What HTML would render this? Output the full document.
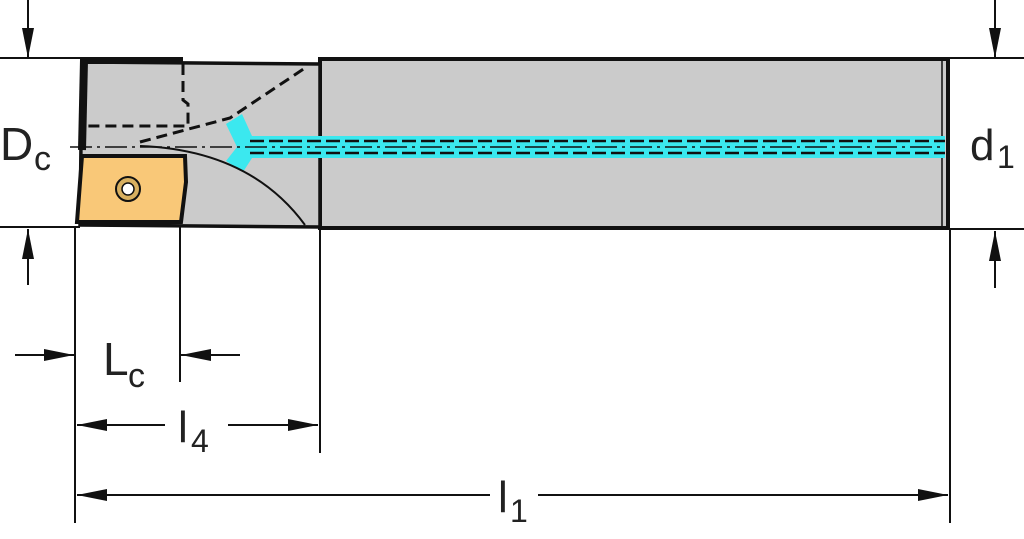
<!DOCTYPE html>
<html><head><style>body{margin:0;background:#fff}svg{display:block}text{font-family:"Liberation Sans",sans-serif;fill:#222}</style></head><body>
<svg width="1024" height="539" viewBox="0 0 1024 539" xmlns="http://www.w3.org/2000/svg">
<defs><marker id="b" markerWidth="30" markerHeight="12" refX="30" refY="6" orient="auto" markerUnits="userSpaceOnUse"><path d="M0,0 L30,6 L0,12 Z" fill="#111"/></marker></defs>
<g stroke="#111" stroke-width="2" fill="none">
<line x1="0" y1="58" x2="80" y2="58"/><line x1="0" y1="227" x2="80" y2="227"/>
<line x1="945" y1="58" x2="1024" y2="58"/><line x1="945" y1="229" x2="1024" y2="229"/>
<line x1="28" y1="0" x2="28" y2="58" marker-end="url(#b)"/><line x1="28" y1="285" x2="28" y2="229" marker-end="url(#b)"/>
<line x1="995" y1="0" x2="995" y2="58" marker-end="url(#b)"/><line x1="995" y1="288" x2="995" y2="231" marker-end="url(#b)"/>
<line x1="75" y1="227" x2="75" y2="523"/><line x1="180" y1="227" x2="180" y2="382"/>
<line x1="320" y1="229" x2="320" y2="453"/><line x1="950" y1="229" x2="950" y2="523"/>
<line x1="15" y1="355" x2="74" y2="355" marker-end="url(#b)"/><line x1="240" y1="355" x2="181" y2="355" marker-end="url(#b)"/>
<line x1="165" y1="425" x2="77" y2="425" marker-end="url(#b)"/><line x1="228" y1="425" x2="318" y2="425" marker-end="url(#b)"/>
<line x1="490" y1="495" x2="77" y2="495" marker-end="url(#b)"/><line x1="538" y1="495" x2="948" y2="495" marker-end="url(#b)"/>
</g>
<rect x="320" y="59" width="628" height="169" fill="#cbcbcb" stroke="#111" stroke-width="4"/>
<line x1="942" y1="61" x2="942" y2="226" stroke="#111" stroke-width="1.5"/>
<path d="M82,62 L320,64 L320,227 L80,225 Z" fill="#cbcbcb" stroke="#111" stroke-width="3.5"/>
<path d="M80,57 L183,57 L183,64 L80,64 Z" fill="#111"/>
<line x1="84" y1="60" x2="82" y2="150" stroke="#111" stroke-width="8"/>
<g stroke="#111" stroke-width="3" fill="none" stroke-dasharray="11,6">
<path d="M183,64 L183,100 L188,104 L188,126 L88,126"/>
<path d="M140,142 L230,118 L305,68"/>
</g>
<path d="M226,124 L242,114 L252,136 L945,136 L945,158 L252,158 L243,172 L226,161 L237,147 Z" fill="#3be8ef"/>
<g stroke="#111" stroke-width="2.5" fill="none" stroke-dasharray="14,5"><path d="M250,141 L945,141"/><path d="M250,153 L945,153"/></g>
<line x1="70" y1="147" x2="945" y2="147" stroke="#111" stroke-width="1.5" stroke-dasharray="22,5,3,5"/>
<path d="M140,146 Q250,150 305,225" stroke="#111" stroke-width="2" fill="none"/>
<path d="M82,156 L185,156 L186,182 L181,222 L77,222 Z" fill="#f9c878" stroke="#111" stroke-width="4"/>
<circle cx="128" cy="189" r="12" fill="#d8b060" stroke="#111" stroke-width="2"/>
<circle cx="128" cy="189" r="6" fill="#fff" stroke="#111" stroke-width="1.5"/>
<text x="0" y="160" font-size="46">D</text><text x="34" y="170" font-size="34">c</text>
<text x="970" y="160" font-size="44">d</text><text x="997" y="168" font-size="32">1</text>
<text x="103" y="375" font-size="46">L</text><text x="128" y="387" font-size="34">c</text>
<text x="178" y="442" font-size="44">l</text><text x="191" y="452" font-size="32">4</text>
<text x="498" y="512" font-size="44">l</text><text x="510" y="522" font-size="32">1</text>
</svg>
</body></html>
